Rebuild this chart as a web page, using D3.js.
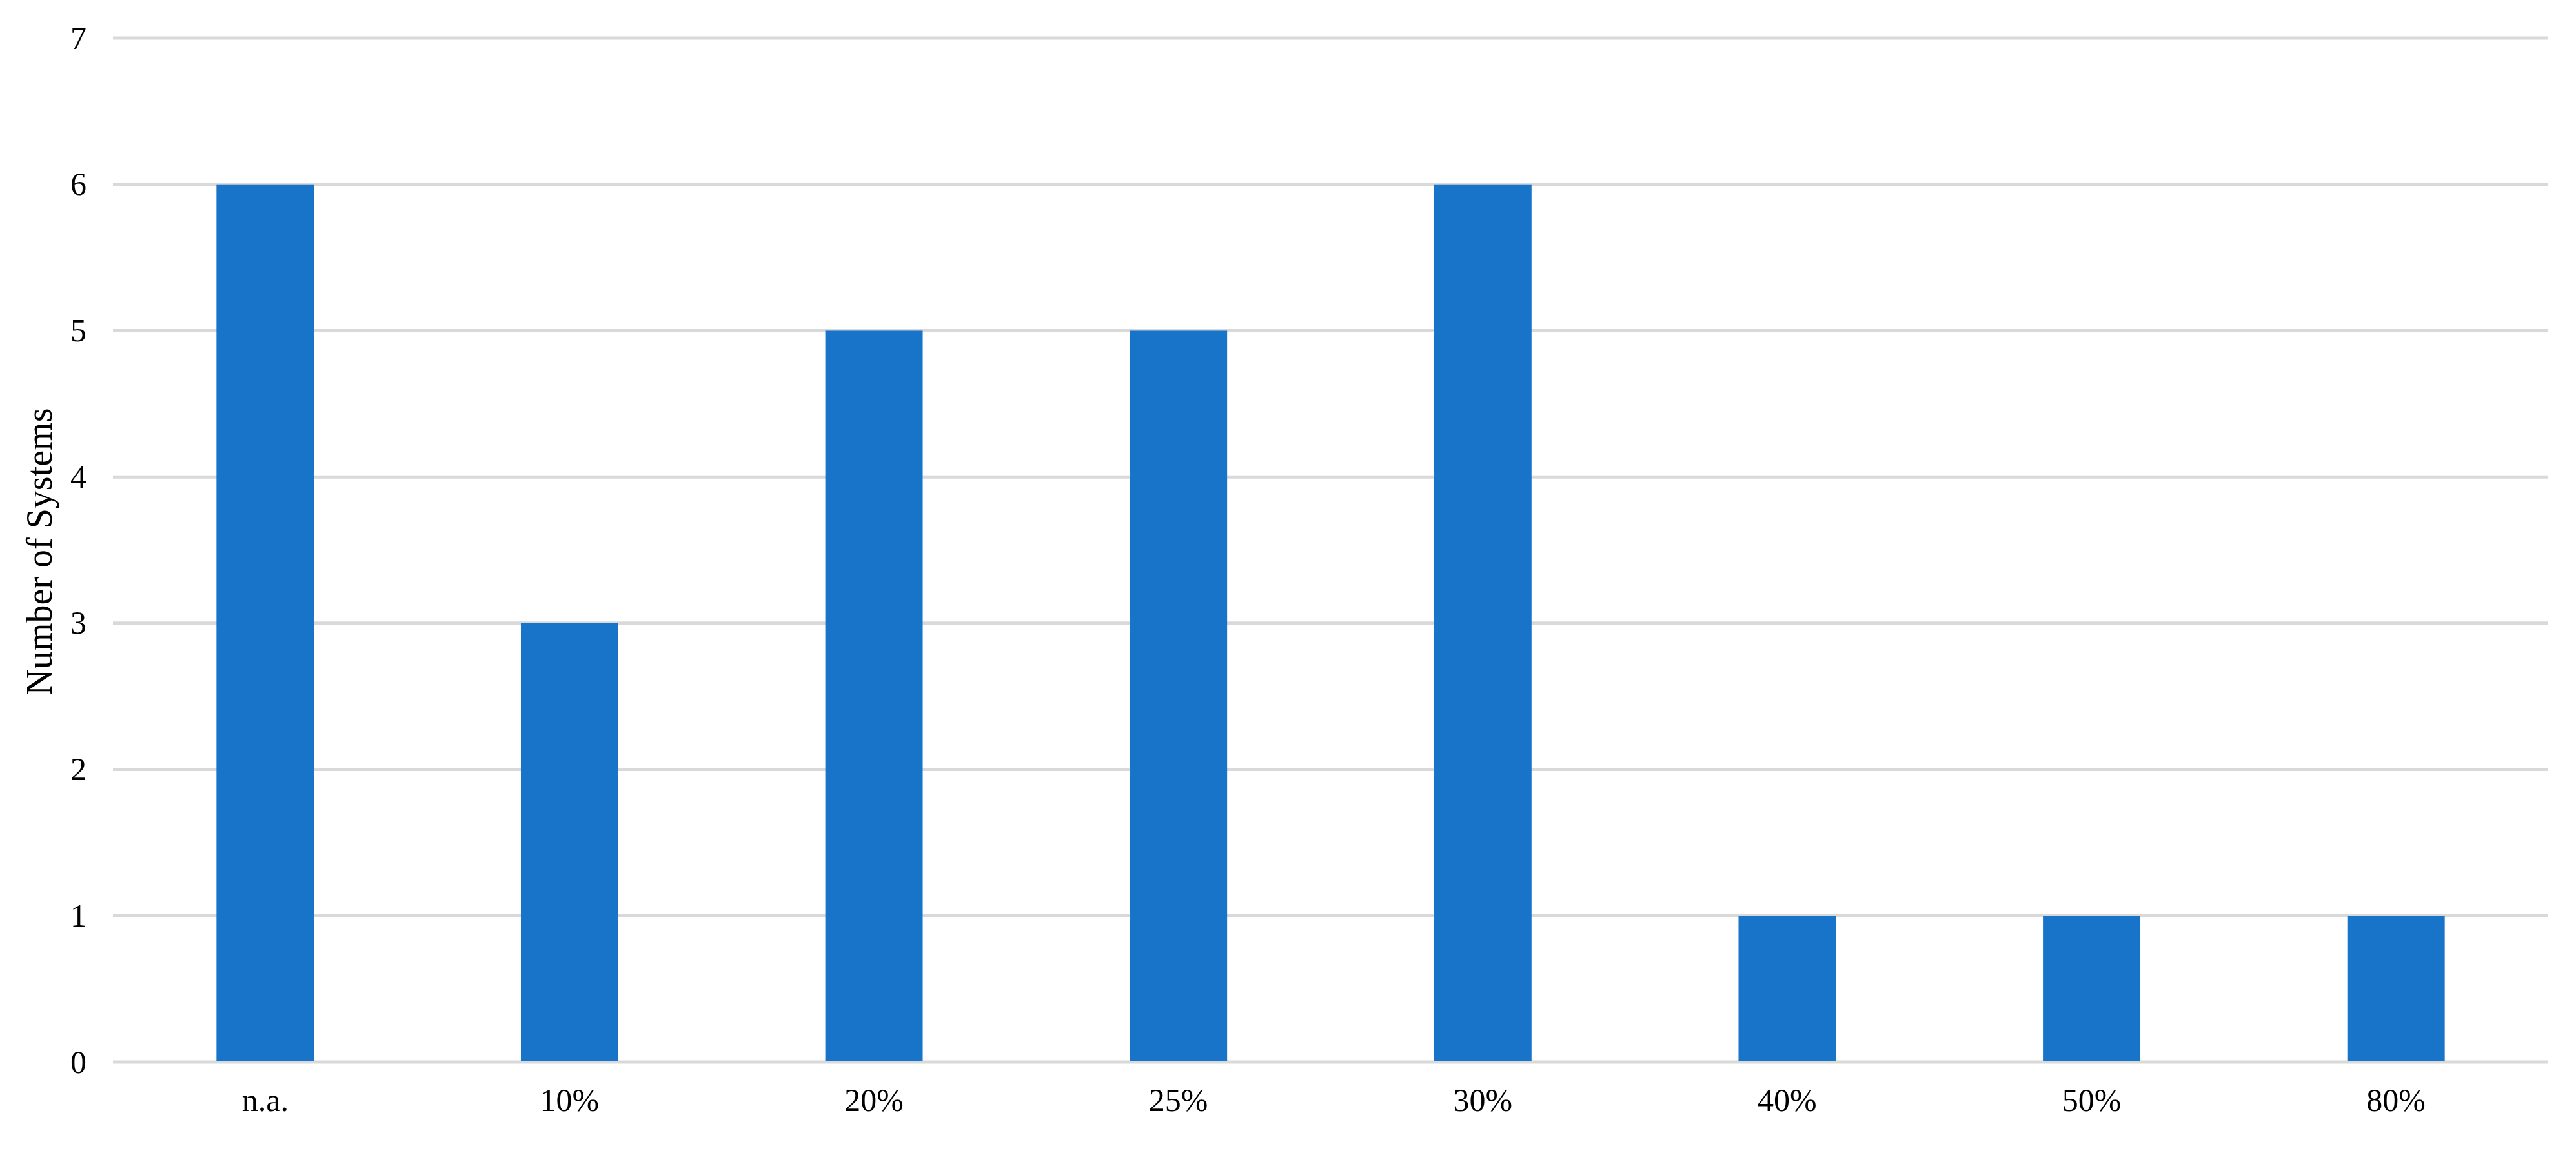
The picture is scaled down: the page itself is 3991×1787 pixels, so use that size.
<!DOCTYPE html>
<html>
<head>
<meta charset="utf-8">
<script src="https://cdn.jsdelivr.net/npm/d3@7"></script>
<style>
    body { margin: 0; background: #fff; }
    text { font-family: "Liberation Serif", "Times New Roman", serif; fill: #000; }
</style>
</head>
<body>
<div id="chart"></div>
<script>
// Data
const categories = ['n.a.', '10%', '20%', '25%', '30%', '40%', '50%', '80%'];
const counts = [6, 3, 5, 5, 6, 1, 1, 1];
const yTicks = [0, 1, 2, 3, 4, 5, 6, 7];
const yTitle = 'Number of Systems';

function draw() {
    const dataset = categories.map((c, i) => ({ name: c, value: counts[i] }));

    // Dimension
    let dimensions = {
        width: 3991,
        height: 1787,
        left: 175,
        right: 3948,
        top: 59,
        bottom: 1646,
    };

    const svg = d3.select('#chart')
        .append('svg')
        .attr('width', dimensions.width)
        .attr('height', dimensions.height);

    // Scales
    const xScale = d3.scaleBand()
        .domain(categories)
        .range([dimensions.left, dimensions.right])
        .padding(0);

    const yScale = d3.scaleLinear()
        .domain([0, 7])
        .range([dimensions.bottom, dimensions.top]);

    const barWidth = xScale.bandwidth() * 0.32;

    // Gridlines
    svg.append('g')
        .selectAll('line')
        .data(yTicks)
        .join('line')
        .attr('x1', dimensions.left)
        .attr('x2', dimensions.right)
        .attr('y1', d => yScale(d))
        .attr('y2', d => yScale(d))
        .attr('stroke', '#d9d9d9')
        .attr('stroke-width', 5);

    // Y axis labels
    const yAxis = d3.axisLeft(yScale)
        .tickValues(yTicks)
        .tickFormat(d3.format('d'))
        .tickSize(0)
        .tickPadding(0);
    const yAxisGroup = svg.append('g')
        .attr('transform', `translate(134, 0)`)
        .call(yAxis);
    yAxisGroup.select('.domain').remove();
    yAxisGroup.selectAll('text')
        .attr('font-size', 50)
        .attr('font-family', '"Liberation Serif", serif')
        .attr('fill', '#000');

    // Bars
    svg.append('g')
        .selectAll('rect')
        .data(dataset)
        .join('rect')
        .attr('x', d => xScale(d.name) + (xScale.bandwidth() - barWidth) / 2)
        .attr('y', d => yScale(d.value))
        .attr('width', barWidth)
        .attr('height', d => yScale(0) - yScale(d.value) - 2)
        .attr('fill', '#1874c8');

    // X axis labels
    const xAxis = d3.axisBottom(xScale)
        .tickSize(0)
        .tickPadding(0);
    const xAxisGroup = svg.append('g')
        .attr('transform', `translate(0, 1686)`)
        .call(xAxis);
    xAxisGroup.select('.domain').remove();
    xAxisGroup.selectAll('text')
        .attr('font-size', 50)
        .attr('font-family', '"Liberation Serif", serif')
        .attr('fill', '#000');

    // Y title
    svg.append('text')
        .attr('transform', `translate(80, 855) rotate(-90)`)
        .attr('text-anchor', 'middle')
        .attr('font-size', 56)
        .text(yTitle);
}

draw();
</script>
</body>
</html>
